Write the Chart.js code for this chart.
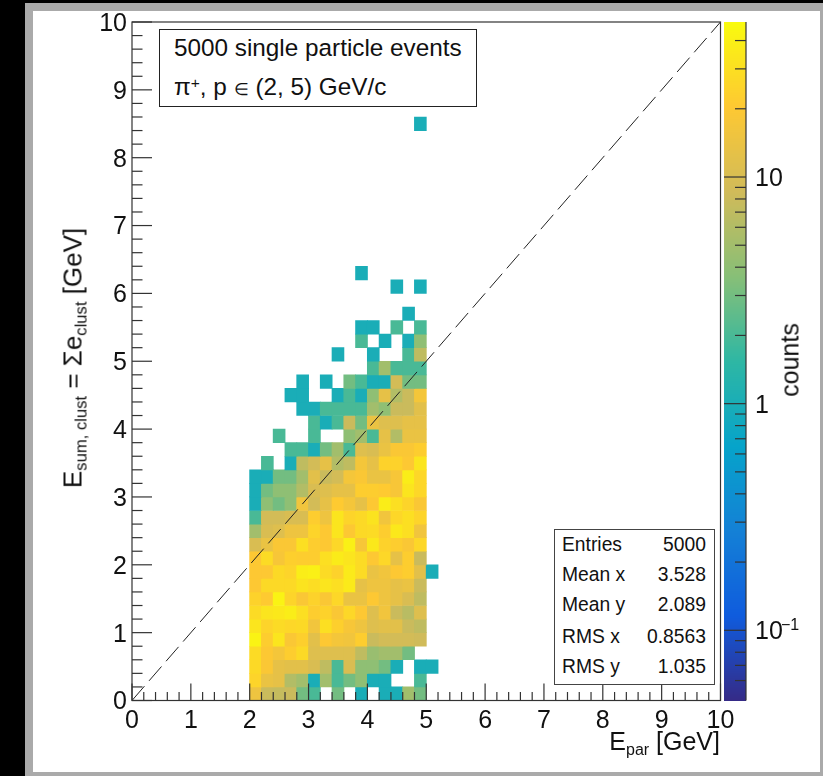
<!DOCTYPE html>
<html>
<head>
<meta charset="utf-8">
<style>
  html, body { margin: 0; padding: 0; background: #000; overflow: hidden; }
  #page { position: relative; width: 823px; height: 776px; font-family: "Liberation Sans", sans-serif; color: #111; }
  #grey { position: absolute; left: 25px; top: 3px; width: 798px; height: 773px; background: #aaa; }
  #white { position: absolute; left: 33px; top: 11px; width: 787px; height: 761px; background: #fff; }
  canvas { position: absolute; left: 0; top: 0; }
  .label { position: absolute; white-space: nowrap; }
  .label sub { font-size: 64%; line-height: 0; vertical-align: -0.3em; }
  .label sup { font-size: 64%; line-height: 0; vertical-align: 0.45em; }
  .label .small { font-size: 70%; }
  #title-box { position: absolute; left: 159px; top: 29px; width: 316px; height: 76px; border: 1px solid #222; background: #fff; font-size: 24.3px; }
  #title-box div { position: absolute; left: 14px; white-space: nowrap; }
  #stats-box { position: absolute; left: 554px; top: 529px; width: 159px; height: 154px; border: 1px solid #444; background: #fff; font-size: 19.3px; }
  #stats-box .k, #stats-box .v { position: absolute; white-space: nowrap; }
  #stats-box .k { left: 7px; }
  #stats-box .v { right: 8px; }
</style>
</head>
<body>
<div id="page">
  <div id="grey"></div>
  <div id="white"></div>
  <canvas id="chart" width="823" height="776"></canvas>
  <div id="title-box"></div>
  <div id="stats-box"></div>
  <div class="label" style="right:103px;top:727px;font-size:25px;">E<sub>par</sub> [GeV]</div>
  <div class="label" style="left:73px;top:358px;font-size:26px;transform:translate(-50%,-50%) rotate(-90deg);">E<sub>sum, clust</sub> = Σe<sub>clust</sub> [GeV]</div>
  <div class="label" style="left:790px;top:360px;font-size:25px;transform:translate(-50%,-50%) rotate(-90deg);">counts</div>
</div>
<script src="https://cdn.jsdelivr.net/npm/chart.js@4"></script>
<script>
// bin edges of the 2D histogram (lower edge, GeV)
const binWidth = 0.2;
const xBinStart = 2.0;
// counts per bin, rows go from E_sum = 0 upward, columns from E_par = 2 to 5.2
const counts = [
  [15, 8, 7.5, 8, 3, 2, 0, 3, 0, 1, 0, 1, 1, 5, 3],
  [25, 14, 13, 6, 5, 1, 5, 2, 3, 4, 1, 1, 0, 0, 2],
  [27, 19, 13, 12, 12, 10, 7, 2, 10, 4, 4, 3, 1, 0, 1, 1],
  [28, 20, 17, 22, 27, 11, 11, 11, 11, 7, 4.5, 5, 5, 3],
  [42, 22, 33, 19, 23, 12, 20, 17, 16, 22, 8, 9, 9, 9, 8.5],
  [33, 25, 28, 26, 27, 16, 30, 23, 18, 15, 11, 12, 12, 8, 7],
  [28, 33, 35, 38, 30, 22, 24, 19, 26, 20, 11, 16, 8, 6.5, 11],
  [24, 21, 42, 25, 19, 24, 19, 26, 14, 14, 20, 15, 13, 10, 7],
  [20, 27, 27, 27, 32, 29, 33, 30, 36, 13, 15, 15, 13, 14, 8],
  [20, 20, 27, 25, 38, 40, 28, 24, 36, 28, 14, 16, 20, 22, 12, 1],
  [20, 28, 18, 23, 22, 22, 30, 37, 33, 28, 20, 26, 13, 22, 8],
  [10, 14, 19, 19, 30, 22, 20, 26, 40, 18, 35, 24, 22, 19, 26],
  [5, 10, 11, 15, 15, 25, 20, 33, 20, 27, 28, 22, 35, 30, 16],
  [2, 9, 9, 10, 10, 22, 15, 33, 25, 27, 32, 16, 26, 30, 25],
  [1, 4, 3, 4, 16, 9, 13, 21, 17, 13, 20, 38, 30, 25, 19],
  [1, 3, 4, 4, 6, 10, 11, 13, 13, 22, 22, 21, 18, 33, 26],
  [1, 1, 3, 3, 5, 12, 8, 9, 17, 19, 14, 14, 18, 38, 26],
  [0, 2, 0, 1, 7, 9, 13, 6, 7, 17, 13, 24, 24, 20, 33],
  [0, 0, 0, 2, 2, 1, 3, 5, 2, 11, 10, 14, 19, 19, 22],
  [0, 0, 2, 0, 0, 2, 0, 0, 4, 5, 2, 13, 6, 14, 14],
  [0, 0, 0, 0, 0, 2, 1, 2, 8, 3, 14, 11, 11, 13, 13],
  [0, 0, 0, 0, 1, 1, 2, 2, 2, 2, 5, 4, 8, 8, 12],
  [0, 0, 0, 1, 1, 0, 0, 1, 2, 1, 4, 13, 6, 8, 17],
  [0, 0, 0, 0, 1, 0, 1, 0, 3, 2, 1, 1, 9, 3, 3],
  [0, 0, 0, 0, 0, 0, 0, 0, 0, 0, 2, 5, 2, 2, 2],
  [0, 0, 0, 0, 0, 0, 0, 1, 0, 0, 1, 0, 0, 2, 7],
  [0, 0, 0, 0, 0, 0, 0, 0, 0, 2, 0, 1, 0, 1, 4],
  [0, 0, 0, 0, 0, 0, 0, 0, 0, 1, 1, 0, 2, 0, 2],
  [0, 0, 0, 0, 0, 0, 0, 0, 0, 0, 0, 0, 0, 1],
  [],
  [0, 0, 0, 0, 0, 0, 0, 0, 0, 0, 0, 0, 1, 0, 1],
  [0, 0, 0, 0, 0, 0, 0, 0, 0, 1],
  [], [], [], [], [], [], [], [], [], [],
  [0, 0, 0, 0, 0, 0, 0, 0, 0, 0, 0, 0, 0, 0, 1]
];
const diagonalLine = [{ x: 0, y: 0 }, { x: 10, y: 10 }];
const colorTicks = [0.1, 1, 10];
const colorMinorTicks = [0.06, 0.07, 0.08, 0.09, 0.2, 0.3, 0.4, 0.5, 0.6, 0.7, 0.8, 0.9, 2, 3, 4, 5, 6, 7, 8, 9, 20, 30, 40];
const axisMinorStep = 0.2;
const colorMin = 0.049;
const colorMax = 48.3;

const titleLines = ['5000 single particle events', 'π<sup>+</sup>, p <span class="small">∈</span> (2, 5) GeV/c'];
const titleTops = [4, 43];
const statNames = ['Entries', 'Mean x', 'Mean y', 'RMS x', 'RMS y'];
const statValues = ['5000', '3.528', '2.089', '0.8563', '1.035'];
const statTops = [4, 34, 64, 96, 126];

// ROOT kBird palette
const paletteStops = [0, 0.125, 0.25, 0.375, 0.5, 0.625, 0.75, 0.875, 1];
const paletteRed = [0.2082, 0.0592, 0.0780, 0.0232, 0.1802, 0.5301, 0.8186, 0.9956, 0.9764];
const paletteGreen = [0.1664, 0.3599, 0.5041, 0.6419, 0.7178, 0.7492, 0.7328, 0.7862, 0.9832];
const paletteBlue = [0.5293, 0.8684, 0.8385, 0.7914, 0.6425, 0.4662, 0.3499, 0.1968, 0.0539];

function paletteColor(value) {
    const lo = Math.log10(colorMin), hi = Math.log10(colorMax);
    const f = Math.min(1, Math.max(0, (Math.log10(value) - lo) / (hi - lo)));
    let i = 0;
    while (i < paletteStops.length - 2 && f > paletteStops[i + 1]) i++;
    const t = (f - paletteStops[i]) / (paletteStops[i + 1] - paletteStops[i]);
    const mix = (arr) => Math.round(255 * (arr[i] + (arr[i + 1] - arr[i]) * t));
    return `rgb(${mix(paletteRed)},${mix(paletteGreen)},${mix(paletteBlue)})`;
}

// text boxes
const titleBox = document.getElementById('title-box');
titleLines.forEach((line, i) => {
    const el = document.createElement('div');
    el.className = 'label';
    el.style.top = titleTops[i] + 'px';
    el.innerHTML = line;
    titleBox.appendChild(el);
});
const statsBox = document.getElementById('stats-box');
statNames.forEach((name, i) => {
    const k = document.createElement('div');
    k.className = 'k';
    k.style.top = statTops[i] + 'px';
    k.textContent = name;
    const v = document.createElement('div');
    v.className = 'v';
    v.style.top = statTops[i] + 'px';
    v.textContent = statValues[i];
    statsBox.append(k, v);
});

// one floating bar per filled bin
const cells = [];
counts.forEach((row, j) => {
    row.forEach((v, i) => {
        if (v > 0) {
            const lo = j * binWidth;
            cells.push({ x: xBinStart + (i + 0.5) * binWidth, y: [lo, lo + binWidth], v: v });
        }
    });
});

const rootAxes = {
    id: 'rootAxes',
    afterDatasetsDraw(chart) {
        const { ctx, chartArea: a, scales } = chart;
        const line = (x1, y1, x2, y2) => {
            ctx.beginPath();
            ctx.moveTo(x1, y1);
            ctx.lineTo(x2, y2);
            ctx.stroke();
        };
        ctx.save();
        ctx.strokeStyle = '#333';
        ctx.lineWidth = 1.2;
        ctx.strokeRect(a.left, a.top, a.right - a.left, a.bottom - a.top);

        // inward ticks, ROOT style
        for (let k = 0; k <= 50; k++) {
            const val = k * axisMinorStep;
            const major = k % 5 === 0;
            const px = scales.x.getPixelForValue(val);
            const py = scales.y.getPixelForValue(val);
            line(px, a.bottom, px, a.bottom - (major ? 17 : 8.5));
            line(a.left, py, a.left + (major ? 20 : 10.5), py);
        }

        // colour bar
        const barLeft = 724, barRight = 746;
        const c = scales.c;
        for (let py = Math.floor(a.top); py < a.bottom; py++) {
            ctx.fillStyle = paletteColor(c.getValueForPixel(py + 0.5));
            ctx.fillRect(barLeft, py, barRight - barLeft, 1);
        }
        line(barRight, a.top, barRight, a.bottom);
        colorTicks.forEach((v) => {
            const py = c.getPixelForValue(v);
            line(barLeft, py, barRight, py);
        });
        colorMinorTicks.forEach((v) => {
            const py = c.getPixelForValue(v);
            line(barRight - 11, py, barRight, py);
        });

        // exponent of the 10^-1 label
        ctx.fillStyle = '#111';
        ctx.font = '16px "Liberation Sans"';
        ctx.textAlign = 'left';
        ctx.textBaseline = 'middle';
        ctx.fillText('−1', 781, c.getPixelForValue(0.1) - 4.5);
        ctx.restore();
    }
};

const tickFont = { family: '"Liberation Sans"', size: 25 };

// tick label padding must not push the chart area in, the layout is fixed
function fixedBox(scale, width, height) {
    if (width) scale.width = width;
    if (height) scale.height = height;
    scale.paddingTop = scale.paddingBottom = scale.paddingLeft = scale.paddingRight = 0;
}

new Chart(document.getElementById('chart'), {
    type: 'bar',
    data: {
        datasets: [
            {
                type: 'line',
                data: diagonalLine,
                borderColor: '#222',
                borderWidth: 1,
                borderDash: [19, 7],
                pointRadius: 0,
                order: 0
            },
            {
                data: cells,
                backgroundColor: (ctx) => paletteColor(ctx.raw.v),
                barThickness: 11.95,
                borderWidth: 0,
                order: 1
            }
        ]
    },
    options: {
        responsive: false,
        animation: false,
        events: [],
        layout: { autoPadding: false, padding: { top: 22, left: 0, right: 0, bottom: 0 } },
        plugins: { legend: { display: false }, tooltip: { enabled: false } },
        scales: {
            x: {
                type: 'linear',
                min: 0,
                max: 10,
                offset: false,
                grid: { display: false, drawTicks: false, offset: false },
                border: { display: false },
                ticks: { stepSize: 1, font: tickFont, color: '#111', padding: 6, maxRotation: 0 },
                afterFit: (s) => fixedBox(s, 0, 75.5)
            },
            y: {
                type: 'linear',
                min: 0,
                max: 10,
                grid: { display: false, drawTicks: false },
                border: { display: false },
                ticks: { stepSize: 1, font: tickFont, color: '#111', padding: 5, labelOffset: 2 },
                afterFit: (s) => fixedBox(s, 132, 0)
            },
            c: {
                type: 'logarithmic',
                position: 'right',
                min: colorMin,
                max: colorMax,
                grid: { display: false, drawTicks: false },
                border: { display: false },
                afterBuildTicks: (s) => { s.ticks = colorTicks.map((v) => ({ value: v, major: true })); },
                afterFit: (s) => fixedBox(s, 102.5, 0),
                ticks: {
                    autoSkip: false,
                    font: tickFont,
                    color: '#111',
                    padding: 34.5,
                    labelOffset: 2,
                    callback: (v) => (v < 1 ? '10' : String(v))
                }
            }
        }
    },
    plugins: [rootAxes]
});
</script>
</body>
</html>
